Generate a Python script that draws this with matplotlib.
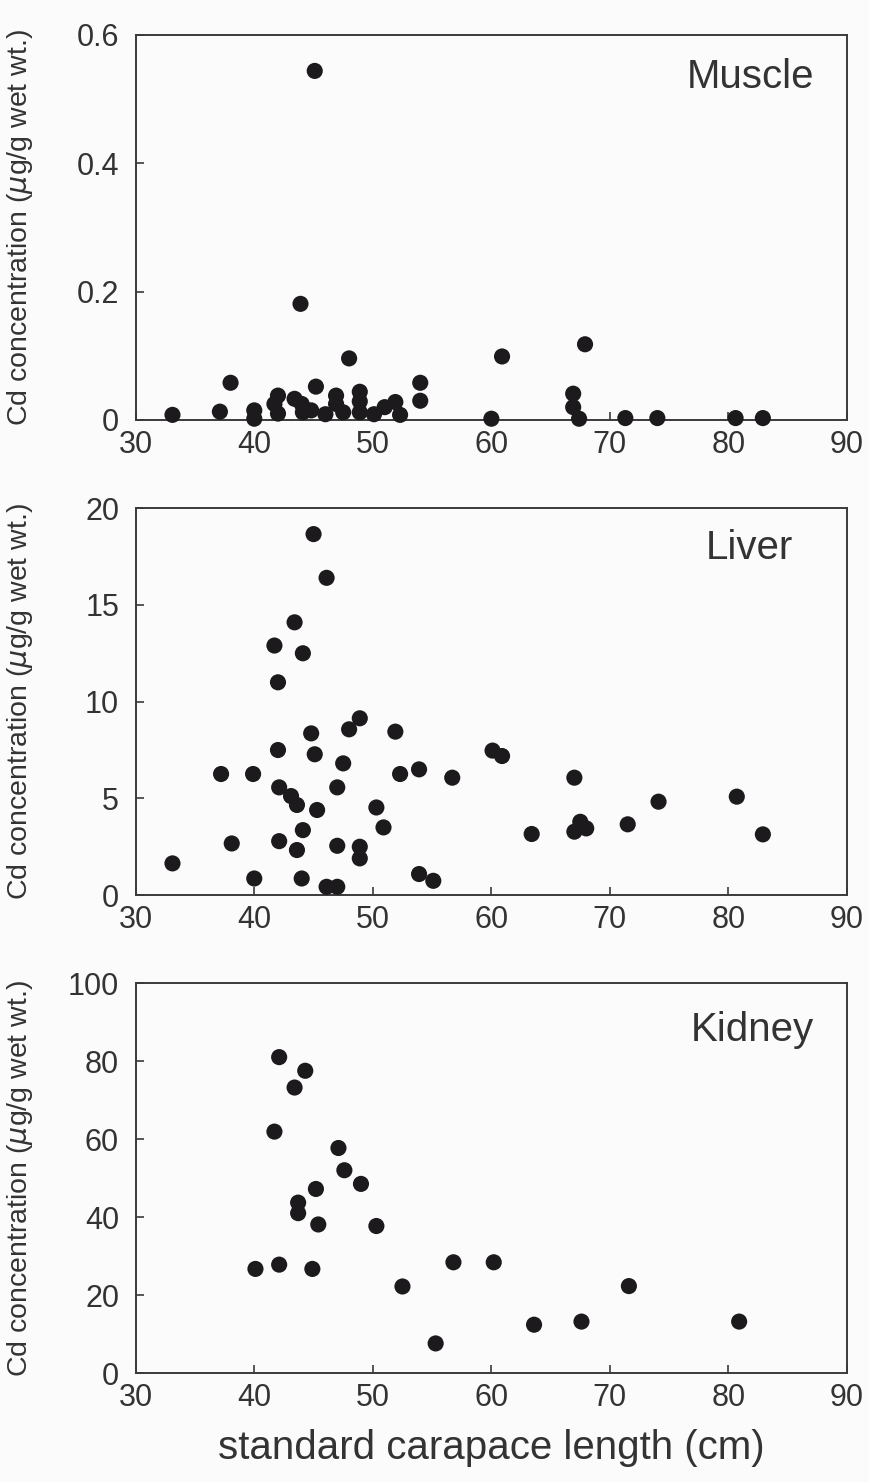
import matplotlib
matplotlib.use("Agg")
import matplotlib.pyplot as plt

plt.rcParams['font.family'] = ['Liberation Sans', 'DejaVu Sans']
plt.rcParams['mathtext.fontset'] = 'dejavusans'

# muscle
muscle_len = [33.1, 37.1, 38.0, 40.0, 40.0, 42.0, 41.7, 42.0, 43.4, 44.0, 44.1, 44.8,
              45.2, 46.0, 46.9, 46.9, 47.5, 48.9, 48.9, 48.9, 50.1, 51.0, 51.9, 52.3,
              54.0, 54.0, 60.0, 66.9, 66.9, 67.4, 71.3, 74.0, 80.6, 82.9,
              45.1, 43.9, 48.0, 60.9, 67.9]
muscle_cd = [0.008, 0.013, 0.058, 0.015, 0.002, 0.038, 0.025, 0.010, 0.033, 0.025, 0.012, 0.015,
             0.052, 0.009, 0.038, 0.025, 0.012, 0.044, 0.029, 0.012, 0.009, 0.020, 0.028, 0.008,
             0.058, 0.030, 0.002, 0.041, 0.020, 0.002, 0.003, 0.003, 0.003, 0.003,
             0.544, 0.181, 0.096, 0.099, 0.118]

# liver
liver_len = [45.0, 46.1, 43.4, 41.7, 44.1, 42.0, 48.9, 48.0, 44.8, 51.9, 42.0, 45.1,
             47.5, 60.1, 60.9, 37.2, 39.9, 52.3, 53.9, 56.7, 67.0, 42.1, 43.1, 43.6,
             47.0, 45.3, 50.3, 74.1, 80.7, 44.1, 50.9, 63.4, 67.0, 67.5, 68.0, 71.5,
             82.9, 38.1, 42.1, 43.6, 47.0, 48.9, 48.9, 33.1, 40.0, 44.0, 53.9, 55.1,
             46.1, 47.0]
liver_cd = [18.66, 16.4, 14.1, 12.9, 12.5, 11.0, 9.14, 8.57, 8.36, 8.45, 7.5, 7.28,
            6.81, 7.47, 7.19, 6.26, 6.26, 6.26, 6.5, 6.07, 6.07, 5.57, 5.12, 4.66,
            5.57, 4.4, 4.53, 4.83, 5.09, 3.36, 3.5, 3.16, 3.28, 3.79, 3.45, 3.66,
            3.14, 2.67, 2.79, 2.33, 2.55, 2.5, 1.9, 1.64, 0.86, 0.86, 1.09, 0.74,
            0.43, 0.43]

# kidney
kidney_len = [42.1, 44.3, 43.4, 41.7, 47.1, 47.6, 49.0, 45.2, 43.7, 43.7, 45.4, 50.3,
              40.1, 42.1, 44.9, 56.8, 60.2, 52.5, 71.6, 63.6, 67.6, 80.9, 55.3]
kidney_cd = [81.0, 77.5, 73.2, 61.9, 57.7, 52.0, 48.5, 47.2, 43.7, 41.0, 38.1, 37.7,
             26.7, 27.8, 26.7, 28.4, 28.4, 22.2, 22.3, 12.4, 13.2, 13.2, 7.6]

x_ticks = [30, 40, 50, 60, 70, 80, 90]
panels = [
    ("Muscle", muscle_len, muscle_cd, [0, 0.2, 0.4, 0.6], ["0", "0.2", "0.4", "0.6"], 0.6),
    ("Liver", liver_len, liver_cd, [0, 5, 10, 15, 20], ["0", "5", "10", "15", "20"], 20),
    ("Kidney", kidney_len, kidney_cd, [0, 20, 40, 60, 80, 100],
     ["0", "20", "40", "60", "80", "100"], 100),
]
boxes = [(0.156, 0.7166, 0.8176, 0.2598),
         (0.156, 0.396, 0.8176, 0.2611),
         (0.156, 0.0735, 0.8176, 0.2632)]
name_pos = [(0.954, 0.89), (0.924, 0.897), (0.954, 0.88)]

fig = plt.figure(figsize=(8.7, 14.82), dpi=100, facecolor='#fbfbfb')
edge = '#3a3a3a'
txt = '#333333'
for (name, xs, ys, yt, ytl, ymax), box, npos in zip(panels, boxes, name_pos):
    ax = fig.add_axes(box)
    ax.set_facecolor('#fbfbfb')
    ax.scatter(xs, ys, s=135, color='#1c1a1c', edgecolors='none', zorder=3, clip_on=False)
    ax.set_xlim(30, 90)
    ax.set_ylim(0, ymax)
    ax.set_xticks(x_ticks)
    ax.set_xticklabels([str(t) for t in x_ticks])
    ax.set_yticks(yt)
    ax.set_yticklabels(ytl)
    ax.tick_params(direction='in', length=6, width=1.2, colors=edge, labelsize=22,
                   labelcolor=txt)
    ax.tick_params(axis='y', pad=12)
    ax.tick_params(axis='x', pad=7)
    for sp in ax.spines.values():
        sp.set_color(edge)
        sp.set_linewidth(1.4)
    ax.yaxis.set_label_coords(-0.142, 0.5)
    ax.set_ylabel("Cd concentration ($\\mu$g/g wet wt.)", fontsize=20.5, color=txt)
    ax.text(npos[0], npos[1], name, transform=ax.transAxes, ha='right', va='center',
            fontsize=29, color=txt)

ax.set_xlabel("standard carapace length (cm)", fontsize=29, color=txt, labelpad=12)

fig.savefig("out.png", dpi=100, facecolor=fig.get_facecolor())
